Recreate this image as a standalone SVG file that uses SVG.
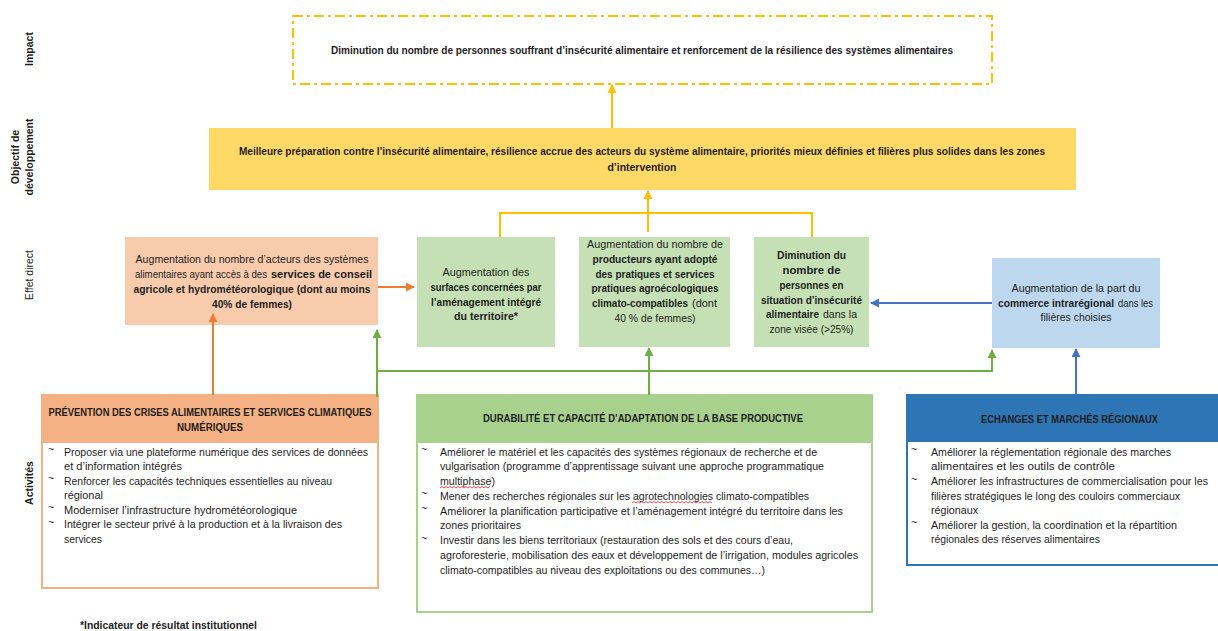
<svg xmlns="http://www.w3.org/2000/svg" width="1218" height="631" viewBox="0 0 1218 631">
<style>
text{font-family:"Liberation Sans",Arial,sans-serif;font-size:10.5px;fill:#1e1e1e}
.b{font-weight:bold}
.c{text-anchor:middle}
.y{stroke:#FFC000;stroke-width:2;fill:none}
.o{stroke:#ED7D31;stroke-width:2;fill:none}
.g{stroke:#70AD47;stroke-width:2;fill:none}
.bl{stroke:#4472C4;stroke-width:2;fill:none}
.sq{stroke:#E02020;stroke-width:0.8;fill:none}
</style>
<defs>
<marker id="ay" viewBox="0 0 10 10" refX="9" refY="5" markerWidth="9" markerHeight="9" markerUnits="userSpaceOnUse" orient="auto"><path d="M0,0 L10,5 L0,10 z" fill="#FFC000"/></marker>
<marker id="ao" viewBox="0 0 10 10" refX="9" refY="5" markerWidth="9" markerHeight="9" markerUnits="userSpaceOnUse" orient="auto"><path d="M0,0 L10,5 L0,10 z" fill="#ED7D31"/></marker>
<marker id="ag" viewBox="0 0 10 10" refX="9" refY="5" markerWidth="9" markerHeight="9" markerUnits="userSpaceOnUse" orient="auto"><path d="M0,0 L10,5 L0,10 z" fill="#70AD47"/></marker>
<marker id="ab" viewBox="0 0 10 10" refX="9" refY="5" markerWidth="9" markerHeight="9" markerUnits="userSpaceOnUse" orient="auto"><path d="M0,0 L10,5 L0,10 z" fill="#4472C4"/></marker>
</defs>
<rect width="1218" height="631" fill="#ffffff"/>

<g id="row-labels">
<text class="b c" transform="translate(33,49) rotate(-90)">Impact</text>
<text class="b c" transform="translate(19,157) rotate(-90)">Objectif de</text>
<text class="b c" transform="translate(33,157) rotate(-90)">développement</text>
<text class="c" transform="translate(33,275) rotate(-90)">Effet direct</text>
<text class="b c" transform="translate(33,483) rotate(-90)">Activités</text>
</g>

<g id="impact">
<rect x="293" y="16" width="699" height="68" fill="none" stroke="#FFC000" stroke-width="2" stroke-dasharray="10 4 3 4"/>
<text class="b c" x="642" y="53.5" textLength="622" lengthAdjust="spacingAndGlyphs">Diminution du nombre de personnes souffrant d’insécurité alimentaire et renforcement de la résilience des systèmes alimentaires</text>
</g>

<g id="objectif">
<rect x="209" y="128" width="867" height="62" fill="#FFD966"/>
<text class="b c" x="642" y="154.5" textLength="806" lengthAdjust="spacingAndGlyphs">Meilleure préparation contre l’insécurité alimentaire, résilience accrue des acteurs du système alimentaire, priorités mieux définies et filières plus solides dans les zones</text>
<text class="b c" x="642" y="170.5" textLength="69" lengthAdjust="spacingAndGlyphs">d’intervention</text>
</g>

<g id="effet-conseil">
<rect x="125" y="237" width="253" height="88" fill="#F8CBAD"/>
<text class="c" x="252" y="262.5" textLength="233" lengthAdjust="spacingAndGlyphs">Augmentation du nombre d’acteurs des systèmes</text>
<text x="135" y="277.5" textLength="132" lengthAdjust="spacingAndGlyphs">alimentaires ayant accès à des</text>
<text class="b" x="271" y="277.5" textLength="101" lengthAdjust="spacingAndGlyphs">services de conseil</text>
<text class="b c" x="252" y="292.5" textLength="237" lengthAdjust="spacingAndGlyphs">agricole et hydrométéorologique (dont au moins</text>
<text class="b c" x="252" y="307.5" textLength="80" lengthAdjust="spacingAndGlyphs">40% de femmes)</text>
</g>

<g id="effet-surfaces">
<rect x="417" y="237" width="138" height="110" fill="#C5E0B4"/>
<text class="c" x="486" y="275.5" textLength="87" lengthAdjust="spacingAndGlyphs">Augmentation des</text>
<text class="b c" x="486" y="290.5" textLength="111" lengthAdjust="spacingAndGlyphs">surfaces concernées par</text>
<text class="b c" x="486" y="305.5" textLength="110" lengthAdjust="spacingAndGlyphs">l’aménagement intégré</text>
<text class="b c" x="486" y="319.5" textLength="64" lengthAdjust="spacingAndGlyphs">du territoire*</text>
</g>

<g id="effet-producteurs">
<rect x="579" y="237" width="151" height="110" fill="#C5E0B4"/>
<text class="c" x="655" y="247.5" textLength="136" lengthAdjust="spacingAndGlyphs">Augmentation du nombre de</text>
<text class="b c" x="655" y="262.5" textLength="125" lengthAdjust="spacingAndGlyphs">producteurs ayant adopté</text>
<text class="b c" x="655" y="277.5" textLength="119" lengthAdjust="spacingAndGlyphs">des pratiques et services</text>
<text class="b c" x="655" y="291.5" textLength="127" lengthAdjust="spacingAndGlyphs">pratiques agroécologiques</text>
<text class="b" x="592" y="306.5" textLength="96" lengthAdjust="spacingAndGlyphs">climato-compatibles</text>
<text x="692" y="306.5" textLength="25" lengthAdjust="spacingAndGlyphs">(dont</text>
<text class="c" x="655" y="321.5" textLength="81" lengthAdjust="spacingAndGlyphs">40 % de femmes)</text>
</g>

<g id="effet-insecurite">
<rect x="754" y="237" width="115" height="110" fill="#C5E0B4"/>
<text class="b c" x="811.5" y="258.5" textLength="69" lengthAdjust="spacingAndGlyphs">Diminution du</text>
<text class="b c" x="811.5" y="274" textLength="58" lengthAdjust="spacingAndGlyphs">nombre de</text>
<text class="b c" x="811.5" y="289" textLength="64" lengthAdjust="spacingAndGlyphs">personnes en</text>
<text class="b c" x="811.5" y="303.5" textLength="101" lengthAdjust="spacingAndGlyphs">situation d’insécurité</text>
<text class="b" x="766" y="318" textLength="53" lengthAdjust="spacingAndGlyphs">alimentaire</text>
<text x="823" y="318" textLength="34" lengthAdjust="spacingAndGlyphs">dans la</text>
<text class="c" x="811.5" y="332.5" textLength="84" lengthAdjust="spacingAndGlyphs">zone visée (&gt;25%)</text>
</g>

<g id="effet-commerce">
<rect x="992" y="258" width="168" height="90" fill="#BDD7EE"/>
<text class="c" x="1076" y="292" textLength="129" lengthAdjust="spacingAndGlyphs">Augmentation de la part du</text>
<text class="b" x="998" y="306.5" textLength="116" lengthAdjust="spacingAndGlyphs">commerce intrarégional</text>
<text x="1118" y="306.5" textLength="35" lengthAdjust="spacingAndGlyphs">dans les</text>
<text class="c" x="1076" y="321" textLength="71" lengthAdjust="spacingAndGlyphs">filières choisies</text>
</g>

<g id="activite-prevention">
<rect x="42" y="395" width="336" height="193" fill="#ffffff" stroke="#F4B183" stroke-width="2"/>
<rect x="42" y="395" width="336" height="48" fill="#F4B183"/>
<text class="b c" x="210" y="415.5" textLength="323" lengthAdjust="spacingAndGlyphs">PRÉVENTION DES CRISES ALIMENTAIRES ET SERVICES CLIMATIQUES</text>
<text class="b c" x="210" y="430.5" textLength="66" lengthAdjust="spacingAndGlyphs">NUMÉRIQUES</text>
<text x="48" y="453">~</text>
<text x="64" y="455.5" textLength="304" lengthAdjust="spacingAndGlyphs">Proposer via une plateforme numérique des services de données</text>
<text x="64" y="470" textLength="118" lengthAdjust="spacingAndGlyphs">et d’information intégrés</text>
<text x="48" y="482">~</text>
<text x="64" y="484.5" textLength="268" lengthAdjust="spacingAndGlyphs">Renforcer les capacités techniques essentielles au niveau</text>
<text x="64" y="499" textLength="39" lengthAdjust="spacingAndGlyphs">régional</text>
<text x="48" y="511">~</text>
<text x="64" y="513.5" textLength="233" lengthAdjust="spacingAndGlyphs">Moderniser l’infrastructure hydrométéorologique</text>
<text x="48" y="525.5">~</text>
<text x="64" y="528" textLength="278" lengthAdjust="spacingAndGlyphs">Intégrer le secteur privé à la production et à la livraison des</text>
<text x="64" y="542.5" textLength="38" lengthAdjust="spacingAndGlyphs">services</text>
</g>

<g id="activite-durabilite">
<rect x="417" y="395" width="455" height="217" fill="#ffffff" stroke="#A9D18E" stroke-width="2"/>
<rect x="417" y="395" width="455" height="48" fill="#A9D18E"/>
<text class="b c" x="643" y="421.5" textLength="320" lengthAdjust="spacingAndGlyphs">DURABILITÉ ET CAPACITÉ D’ADAPTATION DE LA BASE PRODUCTIVE</text>
<text x="421" y="453">~</text>
<text x="440" y="455.5" textLength="377" lengthAdjust="spacingAndGlyphs">Améliorer le matériel et les capacités des systèmes régionaux de recherche et de</text>
<text x="440" y="470.2" textLength="384" lengthAdjust="spacingAndGlyphs">vulgarisation (programme d’apprentissage suivant une approche programmatique</text>
<text x="440" y="485" textLength="55" lengthAdjust="spacingAndGlyphs">multiphase)</text>
<text x="421" y="497.2">~</text>
<text x="440" y="499.7" textLength="369" lengthAdjust="spacingAndGlyphs">Mener des recherches régionales sur les agrotechnologies climato-compatibles</text>
<text x="421" y="512">~</text>
<text x="440" y="514.5" textLength="403" lengthAdjust="spacingAndGlyphs">Améliorer la planification participative et l’aménagement intégré du territoire dans les</text>
<text x="440" y="529.2" textLength="81" lengthAdjust="spacingAndGlyphs">zones prioritaires</text>
<text x="421" y="541.5">~</text>
<text x="440" y="544" textLength="353" lengthAdjust="spacingAndGlyphs">Investir dans les biens territoriaux (restauration des sols et des cours d’eau,</text>
<text x="440" y="558.7" textLength="418" lengthAdjust="spacingAndGlyphs">agroforesterie, mobilisation des eaux et développement de l’irrigation, modules agricoles</text>
<text x="440" y="573.5" textLength="325" lengthAdjust="spacingAndGlyphs">climato-compatibles au niveau des exploitations ou des communes…)</text>
<path class="sq" d="M440,488 l2,-1.5 l2,1.5 l2,-1.5 l2,1.5 l2,-1.5 l2,1.5 l2,-1.5 l2,1.5 l2,-1.5 l2,1.5 l2,-1.5 l2,1.5 l2,-1.5 l2,1.5 l2,-1.5 l2,1.5 l2,-1.5 l2,1.5 l2,-1.5 l2,1.5 l2,-1.5 l2,1.5 l2,-1.5 l2,1.5 l2,-1.5"/>
<path class="sq" d="M632,503 l2,-1.5 l2,1.5 l2,-1.5 l2,1.5 l2,-1.5 l2,1.5 l2,-1.5 l2,1.5 l2,-1.5 l2,1.5 l2,-1.5 l2,1.5 l2,-1.5 l2,1.5 l2,-1.5 l2,1.5 l2,-1.5 l2,1.5 l2,-1.5 l2,1.5 l2,-1.5 l2,1.5 l2,-1.5 l2,1.5 l2,-1.5 l2,1.5 l2,-1.5 l2,1.5 l2,-1.5 l2,1.5 l2,-1.5 l2,1.5 l2,-1.5 l2,1.5 l2,-1.5 l2,1.5 l2,-1.5 l2,1.5 l2,-1.5 l2,1.5"/>
</g>

<g id="activite-echanges">
<rect x="907" y="395" width="325" height="170" fill="#ffffff" stroke="#2E75B6" stroke-width="2"/>
<rect x="907" y="395" width="325" height="47" fill="#2E75B6"/>
<text class="b c" x="1069.5" y="422.5" textLength="177" lengthAdjust="spacingAndGlyphs">ECHANGES ET MARCHÉS RÉGIONAUX</text>
<text x="911" y="453">~</text>
<text x="931" y="455.5" textLength="240" lengthAdjust="spacingAndGlyphs">Améliorer la réglementation régionale des marches</text>
<text x="931" y="470" textLength="184" lengthAdjust="spacingAndGlyphs">alimentaires et les outils de contrôle</text>
<text x="911" y="482.5">~</text>
<text x="931" y="485" textLength="277" lengthAdjust="spacingAndGlyphs">Améliorer les infrastructures de commercialisation pour les</text>
<text x="931" y="499.5" textLength="249" lengthAdjust="spacingAndGlyphs">filières stratégiques le long des couloirs commerciaux</text>
<text x="931" y="514" textLength="47" lengthAdjust="spacingAndGlyphs">régionaux</text>
<text x="911" y="526">~</text>
<text x="931" y="528.5" textLength="246" lengthAdjust="spacingAndGlyphs">Améliorer la gestion, la coordination et la répartition</text>
<text x="931" y="543" textLength="169" lengthAdjust="spacingAndGlyphs">régionales des réserves alimentaires</text>
</g>

<g id="note">
<text class="b" x="80" y="628.5" textLength="177" lengthAdjust="spacingAndGlyphs">*Indicateur de résultat institutionnel</text>
</g>

<g id="connectors">
<path class="y" d="M612,128 V85" marker-end="url(#ay)"/>
<path class="y" d="M500,237 V213 H812 V237"/>
<path class="y" d="M648,232 V191" marker-end="url(#ay)"/>
<path class="o" d="M378,287 H414" marker-end="url(#ao)"/>
<path class="o" d="M213,395 V314" marker-end="url(#ao)"/>
<path class="g" d="M377,397 V330" marker-end="url(#ag)"/>
<path class="g" d="M377,371 H992 V350" marker-end="url(#ag)"/>
<path class="g" d="M649,395 V348" marker-end="url(#ag)"/>
<path class="bl" d="M992,303 H871" marker-end="url(#ab)"/>
<path class="bl" d="M1076,395 V349" marker-end="url(#ab)"/>
</g>
</svg>
